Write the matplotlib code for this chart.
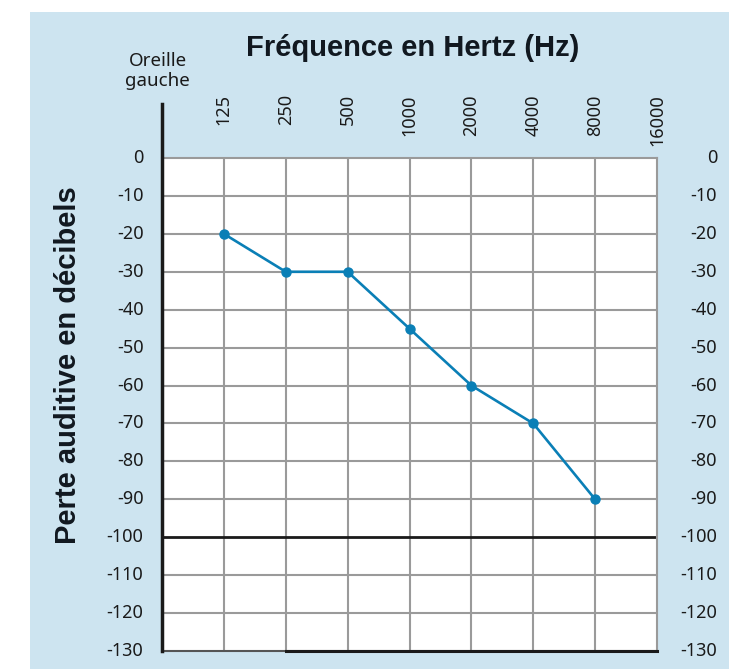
import matplotlib.pyplot as plt
from matplotlib.patches import Rectangle

# Données
frequences = ["125", "250", "500", "1000", "2000", "4000", "8000", "16000"]
perte = [-20, -30, -30, -45, -60, -70, -90]  # jusqu'à 8000 Hz
y_ticks = list(range(0, -140, -10))

bleu_fond = "#cde4f0"
bleu_ligne = "#0a7fb6"
gris = "#9a9a9a"

fig = plt.figure(figsize=(7.29, 6.69), dpi=100)
fig.patch.set_facecolor("white")
# fond bleu
fig.patches.append(Rectangle((30 / 729, 0), 1, 1 - 12 / 669, transform=fig.transFigure,
                             facecolor=bleu_fond, edgecolor="none", zorder=-5))

ax = fig.add_axes([162 / 729, 18 / 669, (657 - 162) / 729, (651 - 158) / 669])
ax.set_zorder(2)
ax.set_facecolor("white")
ax.set_xlim(0, 8)
ax.set_ylim(-130, 0)

# quadrillage
for x in range(1, 8):
    ax.axvline(x, color=gris, lw=1.5, zorder=1)
for y in y_ticks[1:-1]:
    if y == -100:
        ax.axhline(y, color="#1a1a1a", lw=2, zorder=2)
    else:
        ax.axhline(y, color=gris, lw=1.5, zorder=1)

for s in ["top", "right", "bottom"]:
    ax.spines[s].set_color(gris)
    ax.spines[s].set_linewidth(1.5)
ax.spines["bottom"].set_color("#555555")
ax.spines["left"].set_visible(False)
ax.plot([2, 8], [-130, -130], color="#1a1a1a", lw=2.2, clip_on=False, zorder=3)
# axe gauche prolongé
ax.plot([0, 0], [-130, 14.2], color="#1a1a1a", lw=2.5, clip_on=False, zorder=4)

# courbe
x_pts = list(range(1, len(perte) + 1))
ax.plot(x_pts, perte, color=bleu_ligne, lw=1.9, marker="o", ms=6.5, zorder=5)

ax.set_xticks([])
ax.set_yticks([])

police = ["Noto Sans", "DejaVu Sans"]
for y in y_ticks:
    ax.text(-0.3, y, str(y), ha="right", va="center", fontsize=13,
            family=police, color="#1a1a1a")
    ax.text(8.97, y, str(y), ha="right", va="center", fontsize=13,
            family=police, color="#1a1a1a")

for i, f in enumerate(frequences):
    ax.text(i + 1, 16.8, f, rotation=90, ha="center", va="top", fontsize=13,
            family=police, color="#1a1a1a")

ax.text(-0.07, 22.9, "Oreille\ngauche", ha="center", va="center", fontsize=13.5,
        family=police, color="#1a1a1a", linespacing=1.15)

fig.text(413 / 729, 1 - 48 / 669, "Fréquence en Hertz (Hz)", ha="center", va="center",
         fontsize=21, fontweight="bold", family="Liberation Sans", color="#111820")
fig.text(68 / 729, 1 - 365 / 669, "Perte auditive en décibels", ha="center", va="center",
         rotation=90, fontsize=21, fontweight="bold", family="Liberation Sans",
         color="#111820")

fig.savefig("out.png", dpi=100)
